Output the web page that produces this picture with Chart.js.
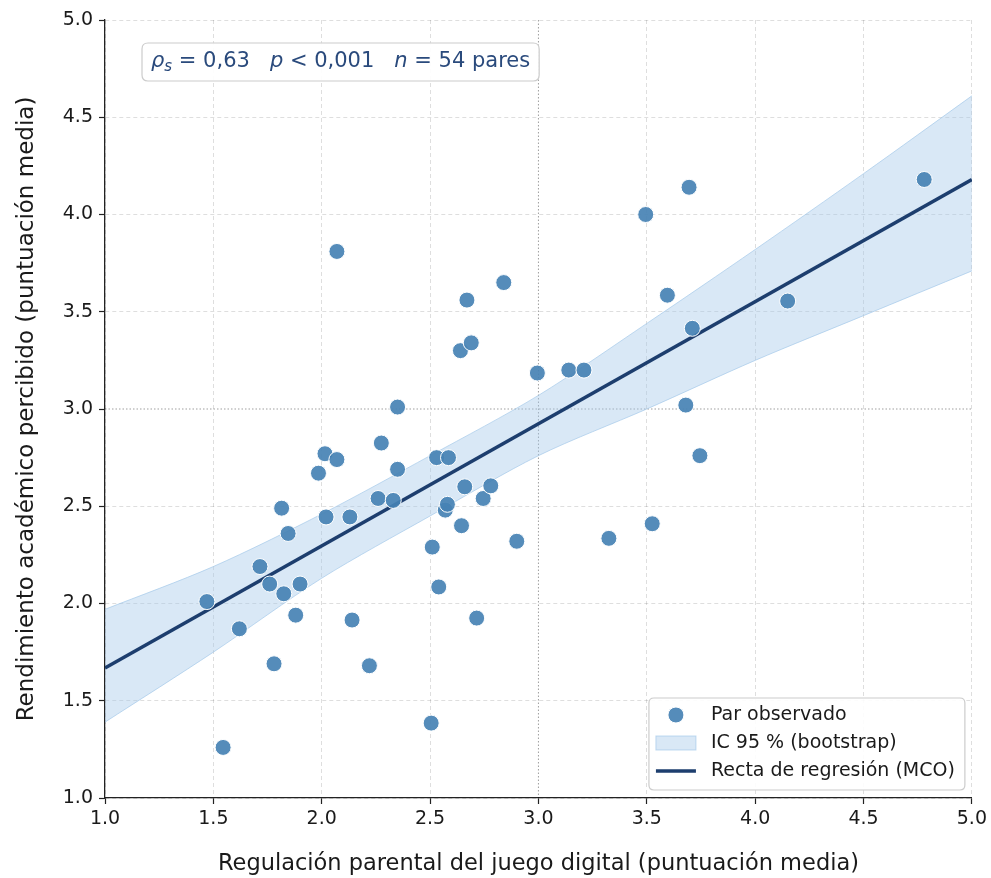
<!DOCTYPE html>
<html>
<head>
<meta charset="utf-8">
<script src="https://cdn.jsdelivr.net/npm/chart.js@4.4.1/dist/chart.umd.min.js"></script>
<style>
  body { margin: 0; background: #fff; }
  #wrap { width: 991px; height: 878px; position: relative; }
</style>
</head>
<body>
<div id="wrap"><canvas id="grafico"></canvas></div>
<script>
// datos
const regulacion = [1.47, 1.545, 1.62, 1.715, 1.76, 1.78, 1.815, 1.825, 1.845, 1.88, 1.90, 1.985, 2.015, 2.02,
  2.07, 2.07, 2.13, 2.14, 2.22, 2.26, 2.275, 2.33, 2.35, 2.35, 2.51, 2.505, 2.53, 2.54, 2.57, 2.58, 2.585,
  2.645, 2.64, 2.66, 2.67, 2.69, 2.715, 2.745, 2.78, 2.84, 2.90, 2.995, 3.14, 3.21, 3.325, 3.495, 3.525,
  3.595, 3.695, 3.68, 3.71, 3.745, 4.15, 4.78];
const rendimiento = [2.01, 1.26, 1.87, 2.19, 2.10, 1.69, 2.49, 2.05, 2.36, 1.94, 2.10, 2.67, 2.77, 2.445,
  2.74, 3.81, 2.445, 1.915, 1.68, 2.54, 2.825, 2.53, 3.01, 2.69, 2.29, 1.385, 2.75, 2.085, 2.48, 2.51, 2.75,
  2.40, 3.30, 2.60, 3.56, 3.34, 1.925, 2.54, 2.605, 3.65, 2.32, 3.185, 3.20, 3.20, 2.335, 4.00, 2.41,
  3.585, 4.14, 3.02, 3.415, 2.76, 3.555, 4.18];

const rectaX = [1.0, 5.0];
const rectaY = [1.668, 4.18];

const bandaX = [1.0, 1.5, 2.0, 2.5, 3.0, 3.5, 4.0, 4.5, 5.0];
const bandaSup = [1.97, 2.19, 2.46, 2.76, 3.07, 3.44, 3.82, 4.21, 4.61];
const bandaInf = [1.39, 1.75, 2.13, 2.45, 2.76, 3.00, 3.25, 3.48, 3.71];

const ticksEje = [1.0, 1.5, 2.0, 2.5, 3.0, 3.5, 4.0, 4.5, 5.0];

const tituloX = "Regulación parental del juego digital (puntuación media)";
const tituloY = "Rendimiento académico percibido (puntuación media)";
const etiquetas = ["Par observado", "IC 95 % (bootstrap)", "Recta de regresión (MCO)"];

const FUENTE = '"DejaVu Sans", sans-serif';
const colorPunto = 'rgba(70, 130, 180, 0.92)';
const colorRecta = '#1d3e6e';
const colorBanda = 'rgba(160, 198, 232, 0.4)';
const colorBordeBanda = 'rgba(160, 198, 232, 0.65)';
const colorTexto = '#1a1a1a';

const pares = regulacion.map((x, i) => ({ x, y: rendimiento[i] }));
const recta = rectaX.map((x, i) => ({ x, y: rectaY[i] }));
const sup = bandaX.map((x, i) => ({ x, y: bandaSup[i] }));
const inf = bandaX.map((x, i) => ({ x, y: bandaInf[i] }));

// lineas punteadas en 3.0
const referencias = {
  id: 'referencias',
  beforeDatasetsDraw(chart) {
    const { ctx, chartArea, scales } = chart;
    const px = scales.x.getPixelForValue(3);
    const py = scales.y.getPixelForValue(3);
    ctx.save();
    ctx.strokeStyle = 'rgba(0,0,0,0.38)';
    ctx.lineWidth = 1;
    ctx.setLineDash([1.5, 2]);
    ctx.beginPath();
    ctx.moveTo(px, chartArea.top);
    ctx.lineTo(px, chartArea.bottom);
    ctx.moveTo(chartArea.left, py);
    ctx.lineTo(chartArea.right, py);
    ctx.stroke();
    ctx.restore();
  }
};

function cajaRedondeada(ctx, x, y, w, h, r) {
  ctx.beginPath();
  ctx.moveTo(x + r, y);
  ctx.lineTo(x + w - r, y);
  ctx.quadraticCurveTo(x + w, y, x + w, y + r);
  ctx.lineTo(x + w, y + h - r);
  ctx.quadraticCurveTo(x + w, y + h, x + w - r, y + h);
  ctx.lineTo(x + r, y + h);
  ctx.quadraticCurveTo(x, y + h, x, y + h - r);
  ctx.lineTo(x, y + r);
  ctx.quadraticCurveTo(x, y, x + r, y);
  ctx.closePath();
}

const anotacion = {
  id: 'anotacion',
  afterDraw(chart) {
    const { ctx, chartArea } = chart;
    const size = 21;
    const normal = `${size}px ${FUENTE}`;
    const cursiva = `italic ${size}px ${FUENTE}`;
    const piezas = [
      { t: 'ρ', f: cursiva, dy: 0 },
      { t: 's', f: `italic ${Math.round(size * 0.7)}px ${FUENTE}`, dy: 5 },
      { t: ' = 0,63   ', f: normal, dy: 0 },
      { t: 'p', f: cursiva, dy: 0 },
      { t: ' < 0,001   ', f: normal, dy: 0 },
      { t: 'n', f: cursiva, dy: 0 },
      { t: ' = 54 pares', f: normal, dy: 0 }
    ];
    ctx.save();
    let ancho = 0;
    piezas.forEach(p => { ctx.font = p.f; p.w = ctx.measureText(p.t).width; ancho += p.w; });
    const bx = chartArea.left + 37, by = chartArea.top + 23;
    const bw = ancho + 18, bh = 38;
    cajaRedondeada(ctx, bx, by, bw, bh, 6);
    ctx.fillStyle = 'rgba(255,255,255,0.92)';
    ctx.fill();
    ctx.strokeStyle = '#cccccc';
    ctx.lineWidth = 1.2;
    ctx.stroke();
    ctx.fillStyle = '#2a4a7c';
    ctx.textBaseline = 'middle';
    let x = bx + 9;
    const y = by + bh / 2;
    piezas.forEach(p => {
      ctx.font = p.f;
      ctx.fillText(p.t, x, y + p.dy);
      x += p.w;
    });
    ctx.restore();
  }
};

const leyenda = {
  id: 'leyenda',
  afterDraw(chart) {
    const { ctx, chartArea } = chart;
    ctx.save();
    ctx.font = `19px ${FUENTE}`;
    const anchoTexto = Math.max(...etiquetas.map(t => ctx.measureText(t).width));
    const bw = 62 + anchoTexto + 10, bh = 92;
    const bx = chartArea.right - 7 - bw, by = chartArea.bottom - 8 - bh;
    cajaRedondeada(ctx, bx, by, bw, bh, 5);
    ctx.fillStyle = 'rgba(255,255,255,0.9)';
    ctx.fill();
    ctx.strokeStyle = '#cccccc';
    ctx.lineWidth = 1.2;
    ctx.stroke();
    const filas = [by + 17, by + 45, by + 73];
    const mx = bx + 27;
    // punto
    ctx.beginPath();
    ctx.arc(mx, filas[0], 8, 0, Math.PI * 2);
    ctx.fillStyle = colorPunto;
    ctx.fill();
    ctx.strokeStyle = '#fff';
    ctx.lineWidth = 1;
    ctx.stroke();
    // banda
    ctx.fillStyle = colorBanda;
    ctx.fillRect(mx - 20, filas[1] - 7, 40, 14);
    ctx.strokeStyle = colorBordeBanda;
    ctx.strokeRect(mx - 20, filas[1] - 7, 40, 14);
    // recta
    ctx.beginPath();
    ctx.moveTo(mx - 20, filas[2]);
    ctx.lineTo(mx + 20, filas[2]);
    ctx.strokeStyle = colorRecta;
    ctx.lineWidth = 3.5;
    ctx.stroke();
    ctx.fillStyle = colorTexto;
    ctx.textBaseline = 'middle';
    etiquetas.forEach((t, i) => ctx.fillText(t, bx + 62, filas[i]));
    ctx.restore();
  }
};

const escala = (titulo, esX) => ({
  type: 'linear',
  min: 1,
  max: 5,
  afterBuildTicks: s => { s.ticks = ticksEje.map(v => ({ value: v })); },
  afterFit: s => { if (esX) s.height = 80; else s.width = 105; },
  grid: {
    color: c => (c.tick && c.tick.value === 3) ? 'rgba(0,0,0,0)' : 'rgba(0,0,0,0.13)',
    lineWidth: 1,
    drawTicks: true,
    tickLength: 6,
    tickColor: '#222',
    tickWidth: 1.2,
    tickBorderDash: []
  },
  border: { display: true, color: '#222', width: 1.3, dash: [4, 3] },
  ticks: {
    color: colorTexto,
    font: { family: FUENTE, size: 19 },
    padding: esX ? 4 : 6,
    callback: v => Number(v).toFixed(1)
  },
  title: {
    display: true,
    text: titulo,
    color: colorTexto,
    font: { family: FUENTE, size: esX ? 22.5 : 23 },
    padding: esX ? { top: 0, bottom: 0.5 } : { top: 13, bottom: 0 }
  }
});

new Chart(document.getElementById('grafico'), {
  type: 'scatter',
  data: {
    datasets: [
      {
        label: etiquetas[0],
        data: pares,
        backgroundColor: colorPunto,
        borderColor: '#ffffff',
        borderWidth: 1,
        pointRadius: 8,
        pointHoverRadius: 8
      },
      {
        type: 'line',
        label: etiquetas[2],
        data: recta,
        borderColor: colorRecta,
        borderWidth: 3.5,
        pointRadius: 0,
        fill: false
      },
      {
        type: 'line',
        label: etiquetas[1],
        data: sup,
        borderColor: colorBordeBanda,
        borderWidth: 1,
        backgroundColor: colorBanda,
        pointRadius: 0,
        tension: 0.3,
        fill: 3
      },
      {
        type: 'line',
        label: 'inf',
        data: inf,
        borderColor: colorBordeBanda,
        borderWidth: 1,
        pointRadius: 0,
        tension: 0.3,
        fill: false
      }
    ]
  },
  options: {
    responsive: true,
    maintainAspectRatio: false,
    animation: false,
    layout: { padding: { top: 20, right: 19, bottom: 0, left: 0 } },
    plugins: {
      legend: { display: false },
      tooltip: { enabled: false }
    },
    scales: {
      x: escala(tituloX, true),
      y: escala(tituloY, false)
    }
  },
  plugins: [referencias, anotacion, leyenda]
});
</script>
</body>
</html>
